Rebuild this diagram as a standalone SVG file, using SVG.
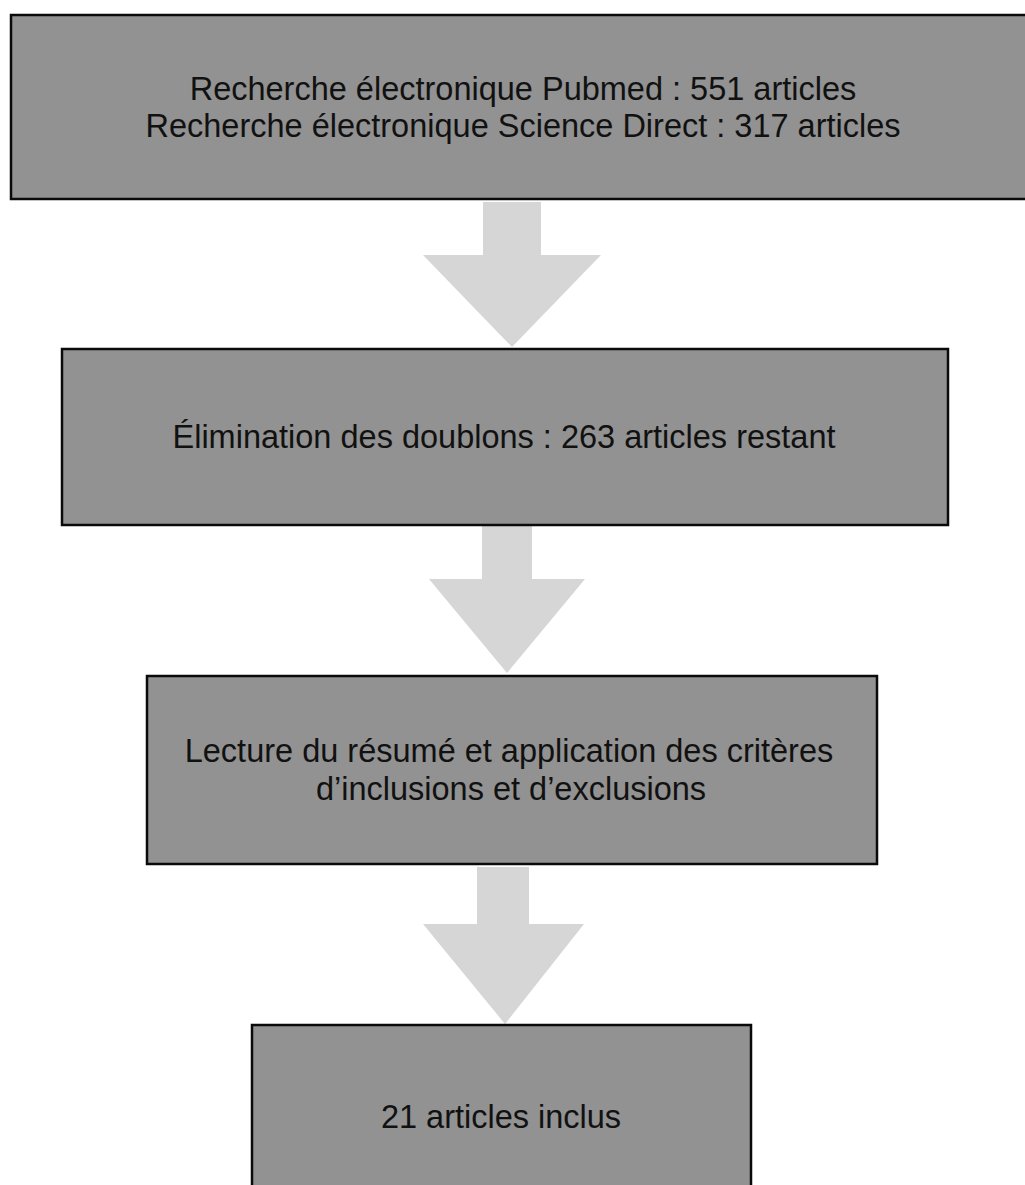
<svg xmlns="http://www.w3.org/2000/svg" width="1025" height="1185" viewBox="0 0 1025 1185">
<style>
.box{fill:#929292;stroke:#0a0a0a;stroke-width:2.5}
.arrow{fill:#d6d6d6}
.t{font-family:"Liberation Sans",Arial,sans-serif;font-size:32.5px;fill:#111;text-anchor:middle}
</style>
<rect width="1025" height="1185" fill="#fff"/>
<g id="connectors">
<polygon class="arrow" points="483,202 541,202 541,255 601,255 512,347 423,255 483,255"/>
<polygon class="arrow" points="482,525 532,525 532,579 585,579 507,673 429,579 482,579"/>
<polygon class="arrow" points="477,867 529,867 529,924 584,924 505,1024 423,924 477,924"/>
</g>
<g id="node1">
<rect class="box" x="11" y="15" width="1020" height="184"/>
<text class="t" x="523" y="100">Recherche électronique Pubmed : 551 articles</text>
<text class="t" x="523" y="137">Recherche électronique Science Direct : 317 articles</text>
</g>
<g id="node2">
<rect class="box" x="62" y="349" width="886" height="176"/>
<text class="t" x="504" y="448">Élimination des doublons : 263 articles restant</text>
</g>
<g id="node3">
<rect class="box" x="147" y="676" width="730" height="188"/>
<text class="t" x="509" y="762">Lecture du résumé et application des critères</text>
<text class="t" x="511" y="800">d’inclusions et d’exclusions</text>
</g>
<g id="node4">
<rect class="box" x="252" y="1025" width="499" height="180"/>
<text class="t" x="501" y="1128">21 articles inclus</text>
</g>
</svg>
